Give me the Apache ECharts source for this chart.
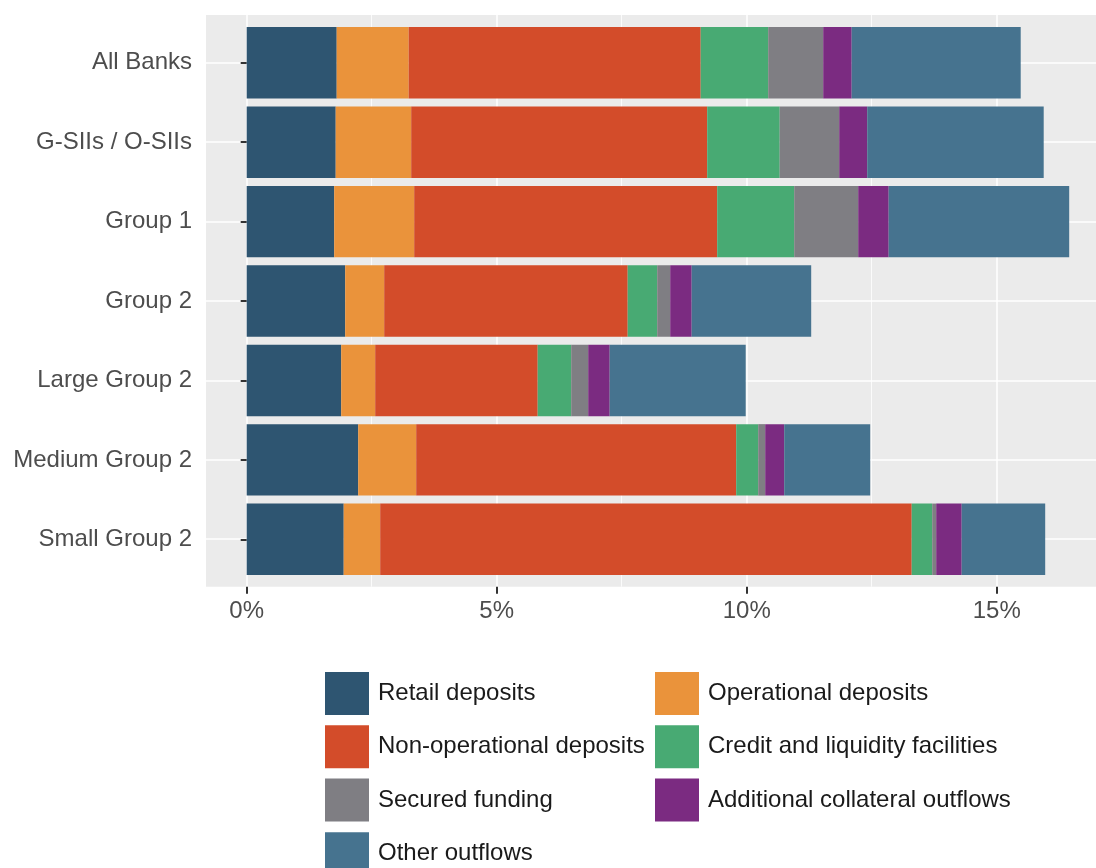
<!DOCTYPE html>
<html>
<head>
<meta charset="utf-8">
<script src="https://cdn.jsdelivr.net/npm/echarts@6/dist/echarts.min.js"></script>
<style>html,body{margin:0;padding:0;background:#fff;}#c{width:1096px;height:868px;}</style>
</head>
<body>
<div id="c"></div>
<script>
const categories = ['All Banks', 'G-SIIs / O-SIIs', 'Group 1', 'Group 2', 'Large Group 2', 'Medium Group 2', 'Small Group 2'];
const retailDeposits       = [1.80, 1.78, 1.75, 1.97, 1.89, 2.23, 1.94];
const operationalDeposits  = [1.44, 1.51, 1.60, 0.78, 0.68, 1.16, 0.73];
const nonOperationalDeposits = [5.84, 5.92, 6.06, 4.87, 3.25, 6.40, 10.63];
const creditLiquidity      = [1.35, 1.45, 1.54, 0.59, 0.67, 0.44, 0.41];
const securedFunding       = [1.10, 1.19, 1.28, 0.26, 0.34, 0.14, 0.08];
const additionalCollateral = [0.57, 0.56, 0.61, 0.43, 0.43, 0.38, 0.51];
const otherOutflows        = [3.38, 3.53, 3.61, 2.39, 2.72, 1.72, 1.67];
const xTickValues = [0, 5, 10, 15, 20];

const seriesDefs = [
  ['Retail deposits', retailDeposits, '#2E5571'],
  ['Operational deposits', operationalDeposits, '#EA933B'],
  ['Non-operational deposits', nonOperationalDeposits, '#D34C2A'],
  ['Credit and liquidity facilities', creditLiquidity, '#48AA73'],
  ['Secured funding', securedFunding, '#7F7E83'],
  ['Additional collateral outflows', additionalCollateral, '#7B2B81'],
  ['Other outflows', otherOutflows, '#46738F']
];

const FONT = '"Liberation Sans", Arial, sans-serif';
const chart = echarts.init(document.getElementById('c'), null, {renderer: 'canvas'});

const panelTop = 15, panelH = 571.7;
const pxPerPct = 50;
const leftPanel = 206, zeroX = 246.7;
const xMaxVal = 20;
const xMinPanel = -(zeroX - leftPanel) / pxPerPct;

const legendCommon = {
  orient: 'vertical', padding: 0, itemWidth: 44, itemHeight: 43, itemGap: 10.3, icon: 'rect', selectedMode: false,
  textStyle: {fontSize: 24, color: '#1A1A1A', fontFamily: FONT, padding: [7, 0, 0, 4]}
};

const option = {
  animation: false,
  textStyle: {fontFamily: FONT},
  grid: [
    {left: leftPanel, top: panelTop, width: (xMaxVal - xMinPanel) * pxPerPct, height: panelH, show: true,
      backgroundColor: '#EBEBEB', borderWidth: 0, containLabel: false, outerBoundsMode: 'none'},
    {left: zeroX, top: panelTop, width: xMaxVal * pxPerPct, height: panelH, show: false,
      containLabel: false, outerBoundsMode: 'none'},
    {left: leftPanel, top: 23.1, width: (xMaxVal - xMinPanel) * pxPerPct, height: 555.9, show: false,
      containLabel: false, outerBoundsMode: 'none'}
  ],
  xAxis: [
    {gridIndex: 0, type: 'value', min: xMinPanel, max: xMaxVal, show: false},
    {gridIndex: 1, type: 'value', min: xTickValues[0], max: xTickValues[xTickValues.length - 1], interval: 5,
      axisLine: {show: false},
      axisTick: {show: true, length: 7, lineStyle: {color: '#333', width: 2}},
      axisLabel: {formatter: '{value}%', fontSize: 24, color: '#4D4D4D', margin: 13, fontFamily: FONT},
      splitLine: {show: true, lineStyle: {color: '#FFFFFF', width: 1.5}},
      minorTick: {show: false, splitNumber: 2},
      minorSplitLine: {show: true, lineStyle: {color: '#FFFFFF', width: 0.8}}
    },
    {gridIndex: 2, type: 'value', min: xMinPanel, max: xMaxVal, show: false}
  ],
  yAxis: [
    {gridIndex: 0, type: 'value', min: -0.6, max: 6.6, splitNumber: 7,
      axisLine: {show: false}, axisTick: {show: false}, axisLabel: {show: false},
      splitLine: {show: true, showMinLine: false, showMaxLine: false, lineStyle: {color: '#FFFFFF', width: 1.5}}
    },
    {gridIndex: 1, type: 'value', min: 0, max: 1, show: false},
    {gridIndex: 2, type: 'category', inverse: true, data: categories,
      axisLine: {show: false},
      axisTick: {show: true, alignWithLabel: true, length: 6, lineStyle: {color: '#333', width: 2}},
      axisLabel: {fontSize: 24, color: '#4D4D4D', margin: 14, fontFamily: FONT, padding: [6, 0, 0, 0]},
      splitLine: {show: false}
    }
  ],
  legend: [
    Object.assign({left: 325, top: 672, data: ['Retail deposits', 'Non-operational deposits', 'Secured funding']}, legendCommon),
    Object.assign({left: 325, top: 832.2, data: ['Other outflows']}, legendCommon),
    Object.assign({left: 655, top: 672, data: ['Operational deposits', 'Credit and liquidity facilities', 'Additional collateral outflows']}, legendCommon)
  ],
  series: seriesDefs.map(d => ({
    name: d[0], type: 'bar', stack: 'total', xAxisIndex: 2, yAxisIndex: 2,
    barWidth: '90%', data: d[1], itemStyle: {color: d[2]}
  }))
};
chart.setOption(option);
</script>
</body>
</html>
